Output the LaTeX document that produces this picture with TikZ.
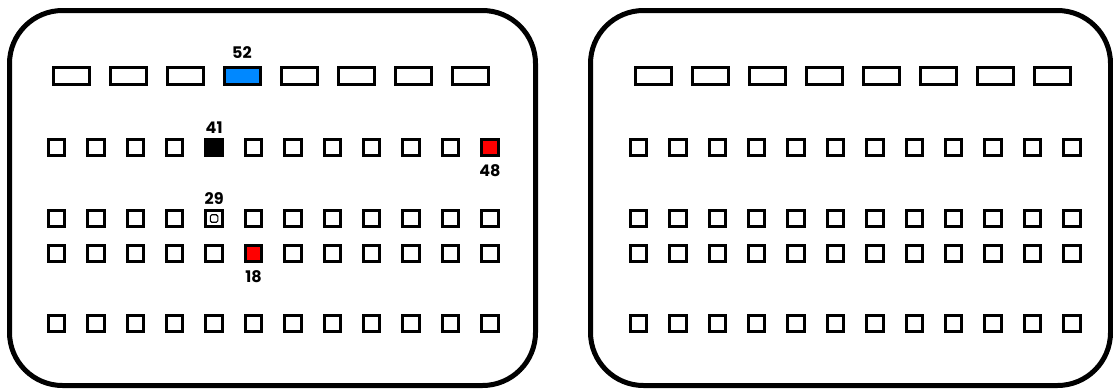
\documentclass[tikz,border=0pt]{standalone}
\usepackage{fontspec}
\setmainfont{Poppins}
\usetikzlibrary{positioning}

\definecolor{pinblue}{RGB}{0,136,255}
\definecolor{pinred}{RGB}{255,0,0}

\begin{document}
\begin{tikzpicture}[
    x=1pt, y=-1pt,
    every node/.style={font=\bfseries\fontsize{16}{16}\selectfont},
    housing/.style={draw, line width=5pt, rounded corners=53pt},
    pin/.style={draw, line width=3pt, fill=white, inner sep=0pt, minimum width=16.5pt, minimum height=16.5pt},
    widepin/.style={pin, minimum width=36pt, minimum height=16.5pt},
    pinlabel/.style={inner sep=0pt}
]
\useasboundingbox (0,0) rectangle (1113,389);
% connector housings
\draw[housing] (9.5,10.5) rectangle (535.5,385.5);
\draw[housing] (590.5,10.5) rectangle (1110.5,385.5);
% cavities, both connectors
\foreach \side/\dx in {L/0, R/582} {
    \foreach \i in {0,...,7}
        \node[widepin] (\side-top-\i) at (71+57*\i+\dx, 76) {};
    \foreach \row/\y in {1/147.5, 2/218.5, 3/253.5, 4/323.5}
        \foreach \i in {0,...,11}
            \node[pin] (\side-\row-\i) at (56.5+39.4*\i+\dx, \y) {};
}
% used cavities
\node[widepin, fill=pinblue] (pin52) at (L-top-3) {};
\node[pin, fill=black] (pin41) at (L-1-4) {};
\node[pin, fill=pinred] (pin48) at (L-1-11) {};
\node[pin, fill=pinred] (pin18) at (L-3-5) {};
\node[draw, line width=1.2pt, rounded corners=1.5pt, inner sep=0pt, minimum size=7.5pt] (pin29) at (L-2-4) {};
\node[pinlabel, above=8pt of pin52] (lab52) {52};
\node[pinlabel, above=4pt of pin41] (lab41) {41};
\node[pinlabel, below=7pt of pin48] (lab48) {48};
\node[pinlabel, above=4pt of L-2-4] (lab29) {29};
\node[pinlabel, below=7pt of pin18] (lab18) {18};
\end{tikzpicture}
\end{document}
